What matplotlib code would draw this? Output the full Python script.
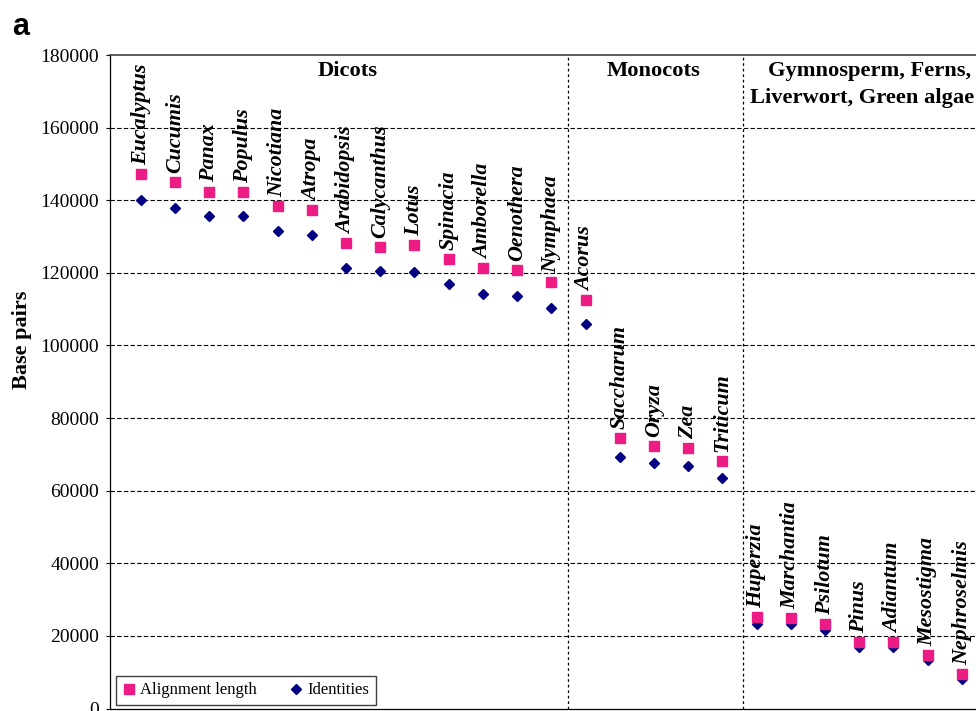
import matplotlib
matplotlib.use("Agg")
import matplotlib.pyplot as plt
from matplotlib.lines import Line2D

# ---- data ----
species = ['Eucalyptus', 'Cucumis', 'Panax', 'Populus', 'Nicotiana', 'Atropa',
           'Arabidopsis', 'Calycanthus', 'Lotus', 'Spinacia', 'Amborella',
           'Oenothera', 'Nymphaea', 'Acorus', 'Saccharum', 'Oryza', 'Zea',
           'Triticum', 'Huperzia', 'Marchantia', 'Psilotum', 'Pinus',
           'Adiantum', 'Mesostigma', 'Nephroselmis']
alignment_length = [147100, 145100, 142400, 142200, 138400, 137200, 128100,
                    127000, 127600, 123800, 121300, 120900, 117500, 112500,
                    74500, 72300, 71700, 68300, 25100, 24900, 23200, 18300,
                    18400, 14700, 9400]
identities = [140000, 137800, 135600, 135600, 131500, 130400, 121400, 120400,
              120100, 116800, 114100, 113500, 110400, 106000, 69400, 67500,
              66700, 63600, 23400, 23200, 21600, 16900, 16900, 13300, 8200]
group_lines = [['Dicots'], ['Monocots'], ['Gymnosperm, Ferns,', 'Liverwort, Green algae']]
group_line_centers = [[6.05], [15.0], [21.29, 21.08]]
group_dividers = [12.5, 17.6]
y_ticks = [0, 20000, 40000, 60000, 80000, 100000, 120000, 140000, 160000, 180000]

PINK = '#EC1C84'
NAVY = '#000080'
SERIF = ['Liberation Serif', 'DejaVu Serif']

W, H = 976, 711
fig = plt.figure(figsize=(W / 100, H / 100), dpi=100)

x0 = -0.9
x1 = 25.5
step_px = 34.21
ax_left = 110
ax_width = (x1 - x0) * step_px
ax_top = 55
ax_bottom = 708.5
ax = fig.add_axes([ax_left / W, 1 - ax_bottom / H, ax_width / W, (ax_bottom - ax_top) / H])

xs = list(range(len(species)))
ax.plot(xs, identities, linestyle='none', marker='D', ms=4.6, color=NAVY,
        mec=NAVY, zorder=3, clip_on=False)
ax.plot(xs, alignment_length, linestyle='none', marker='s', ms=7.2, color=PINK,
        mec=PINK, zorder=4, clip_on=False)

for x, y, name in zip(xs, alignment_length, species):
    ax.annotate(name, (x, y), xytext=(0, 6.5), textcoords='offset points',
                rotation=90, ha='center', va='bottom', fontsize=15.8,
                fontweight='bold', fontstyle='italic', family=SERIF, zorder=5)

ax.set_xlim(x0, x1)
ax.set_ylim(0, 180000)
ax.set_yticks(y_ticks)
ax.set_yticklabels([str(v) for v in y_ticks], family=SERIF, fontsize=14)
ax.set_xticks([])
ax.tick_params(axis='y', direction='out', length=3, width=0.8, pad=5)

for v in y_ticks[1:-1]:
    ax.axhline(v, color='black', lw=0.8, linestyle=(0, (4, 2)), zorder=1)
for d in group_dividers:
    ax.axvline(d, color='black', lw=0.9, linestyle=(0, (2.2, 2.2)), zorder=1)

for s in ['left', 'bottom']:
    ax.spines[s].set_color('black')
    ax.spines[s].set_linewidth(0.9)
ax.spines['top'].set_color('#404040')
ax.spines['top'].set_linewidth(1.2)
ax.spines['right'].set_visible(False)

# group headings, one text per line (line centres at 70.7 px and 98.3 px)
line_y_px = [70.7, 98.3]
for lines, centers in zip(group_lines, group_line_centers):
    for i, (line, cx) in enumerate(zip(lines, centers)):
        yfrac = (ax_bottom - line_y_px[i]) / (ax_bottom - ax_top)
        ax.text(cx, yfrac, line, ha='center', va='center', fontsize=16.2,
                fontweight='bold', family=SERIF,
                transform=ax.get_xaxis_transform())

fig.text(22 / W, 1 - 340 / H, 'Base pairs', rotation=90, ha='center',
         va='center', fontsize=16, fontweight='bold', family=SERIF)
fig.text(12 / W, 1 - 35 / H, 'a', ha='left', va='baseline', fontsize=22,
         fontweight='bold', family=['Liberation Sans', 'DejaVu Sans'])

handles = [Line2D([], [], linestyle='none', marker='s', ms=7, color=PINK),
           Line2D([], [], linestyle='none', marker='D', ms=4.6, color=NAVY)]
leg = ax.legend(handles, ['Alignment length', 'Identities'], ncol=2,
                loc='lower left', bbox_to_anchor=(116 / W, 1 - 705 / H),
                bbox_transform=fig.transFigure, frameon=True, fancybox=False,
                edgecolor='#404040', framealpha=1, borderpad=0.4,
                handlelength=0.7, handletextpad=0.35, columnspacing=2.0,
                borderaxespad=0, prop={'family': SERIF, 'size': 12})
leg.get_frame().set_linewidth(1.0)

fig.savefig('out.png', dpi=100)
